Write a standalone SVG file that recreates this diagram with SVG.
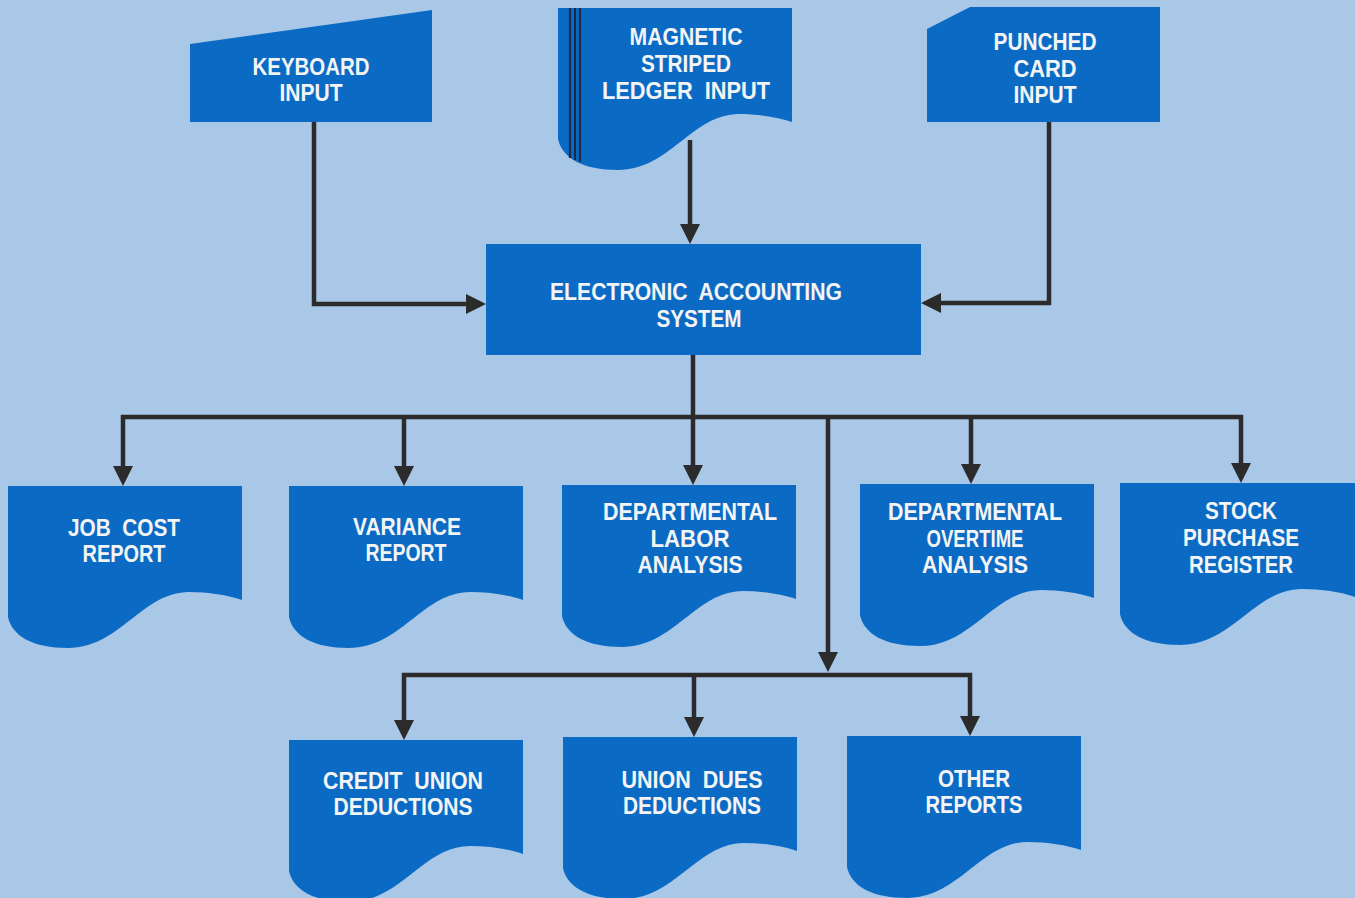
<svg xmlns="http://www.w3.org/2000/svg" width="1355" height="898" viewBox="0 0 1355 898" xml:space="preserve">
<style>
.bg{fill:#a9c7e7}
.sh{fill:#0b6bc4}
.t{font-family:"Liberation Sans",Arial,sans-serif;font-weight:bold;font-size:24px;fill:#f4f4f4;text-anchor:middle;white-space:pre}
.c{fill:none;stroke:#2b2b2b;stroke-width:4.5;stroke-linejoin:miter}
.ar{marker-end:url(#ah)}
.ar2{marker-start:url(#ah);marker-end:url(#ah)}
.stripe{stroke:#1b2a4a;stroke-width:2.2}
</style>
<defs>
<marker id="ah" markerUnits="userSpaceOnUse" markerWidth="20" markerHeight="20" refX="8" refY="10" orient="auto-start-reverse" viewBox="0 0 20 20">
<path d="M0,0 L20,10 L0,20 Z" fill="#2b2b2b"/>
</marker>
<path id="doc" d="M0,0 H234 V114 C220,109 200,106 181,106 C134,106 112,162 60,162 C25,162 4,150 0,131 Z"/>
</defs>
<rect class="bg" x="0" y="0" width="1355" height="898"/>

<g id="connectors">
<path class="c ar" d="M314,122 V304 H474"/>
<path class="c ar" d="M690,140 V232"/>
<path class="c ar" d="M1049,122 V303 H933"/>
<path class="c ar" d="M693,355 V473"/>
<path class="c ar2" d="M123,474 V417 H1241 V471"/>
<path class="c ar" d="M404,417 V474"/>
<path class="c ar" d="M971,417 V472"/>
<path class="c ar" d="M828,417 V660"/>
<path class="c ar2" d="M404,728 V675 H970 V724"/>
<path class="c ar" d="M694,675 V725"/>
</g>

<g id="keyboard">
<polygon class="sh" points="190,44 432,10 432,122 190,122"/>
<text class="t" x="311" y="75" textLength="117" lengthAdjust="spacingAndGlyphs">KEYBOARD</text>
<text class="t" x="311" y="101" textLength="63" lengthAdjust="spacingAndGlyphs">INPUT</text>
</g>

<g id="magnetic">
<use href="#doc" class="sh" transform="translate(558,8)"/>
<line class="stripe" x1="570" y1="8" x2="570" y2="158"/>
<line class="stripe" x1="575" y1="8" x2="575" y2="160"/>
<line class="stripe" x1="580" y1="8" x2="580" y2="162"/>
<text class="t" x="686" y="45" textLength="113" lengthAdjust="spacingAndGlyphs">MAGNETIC</text>
<text class="t" x="686" y="72" textLength="90" lengthAdjust="spacingAndGlyphs">STRIPED</text>
<text class="t" x="686" y="99" textLength="168" lengthAdjust="spacingAndGlyphs">LEDGER  INPUT</text>
</g>

<g id="punched">
<polygon class="sh" points="927,29 970,7 1160,7 1160,122 927,122"/>
<text class="t" x="1045" y="50" textLength="103" lengthAdjust="spacingAndGlyphs">PUNCHED</text>
<text class="t" x="1045" y="77" textLength="63" lengthAdjust="spacingAndGlyphs">CARD</text>
<text class="t" x="1045" y="103" textLength="63" lengthAdjust="spacingAndGlyphs">INPUT</text>
</g>

<g id="eas">
<rect class="sh" x="486" y="244" width="435" height="111"/>
<text class="t" x="696" y="300" textLength="292" lengthAdjust="spacingAndGlyphs">ELECTRONIC  ACCOUNTING</text>
<text class="t" x="699" y="327" textLength="85" lengthAdjust="spacingAndGlyphs">SYSTEM</text>
</g>

<g id="jobcost">
<use href="#doc" class="sh" transform="translate(8,486)"/>
<text class="t" x="124" y="536" textLength="112" lengthAdjust="spacingAndGlyphs">JOB  COST</text>
<text class="t" x="124" y="562" textLength="83" lengthAdjust="spacingAndGlyphs">REPORT</text>
</g>

<g id="variance">
<use href="#doc" class="sh" transform="translate(289,486)"/>
<text class="t" x="407" y="535" textLength="108" lengthAdjust="spacingAndGlyphs">VARIANCE</text>
<text class="t" x="406" y="561" textLength="81" lengthAdjust="spacingAndGlyphs">REPORT</text>
</g>

<g id="labor">
<use href="#doc" class="sh" transform="translate(562,485)"/>
<text class="t" x="690" y="520" textLength="174" lengthAdjust="spacingAndGlyphs">DEPARTMENTAL</text>
<text class="t" x="690" y="547" textLength="79" lengthAdjust="spacingAndGlyphs">LABOR</text>
<text class="t" x="690" y="573" textLength="105" lengthAdjust="spacingAndGlyphs">ANALYSIS</text>
</g>

<g id="overtime">
<use href="#doc" class="sh" transform="translate(860,484)"/>
<text class="t" x="975" y="520" textLength="174" lengthAdjust="spacingAndGlyphs">DEPARTMENTAL</text>
<text class="t" x="975" y="547" textLength="97" lengthAdjust="spacingAndGlyphs">OVERTIME</text>
<text class="t" x="975" y="573" textLength="106" lengthAdjust="spacingAndGlyphs">ANALYSIS</text>
</g>

<g id="stock">
<use href="#doc" class="sh" transform="translate(1120,483) scale(1.005 1)"/>
<text class="t" x="1241" y="519" textLength="72" lengthAdjust="spacingAndGlyphs">STOCK</text>
<text class="t" x="1241" y="546" textLength="116" lengthAdjust="spacingAndGlyphs">PURCHASE</text>
<text class="t" x="1241" y="573" textLength="104" lengthAdjust="spacingAndGlyphs">REGISTER</text>
</g>

<g id="credit">
<use href="#doc" class="sh" transform="translate(289,740)"/>
<text class="t" x="403" y="789" textLength="160" lengthAdjust="spacingAndGlyphs">CREDIT  UNION</text>
<text class="t" x="403" y="815" textLength="139" lengthAdjust="spacingAndGlyphs">DEDUCTIONS</text>
</g>

<g id="uniondues">
<use href="#doc" class="sh" transform="translate(563,737)"/>
<text class="t" x="692" y="788" textLength="141" lengthAdjust="spacingAndGlyphs">UNION  DUES</text>
<text class="t" x="692" y="814" textLength="138" lengthAdjust="spacingAndGlyphs">DEDUCTIONS</text>
</g>

<g id="other">
<use href="#doc" class="sh" transform="translate(847,736)"/>
<text class="t" x="974" y="787" textLength="72" lengthAdjust="spacingAndGlyphs">OTHER</text>
<text class="t" x="974" y="813" textLength="97" lengthAdjust="spacingAndGlyphs">REPORTS</text>
</g>
</svg>
